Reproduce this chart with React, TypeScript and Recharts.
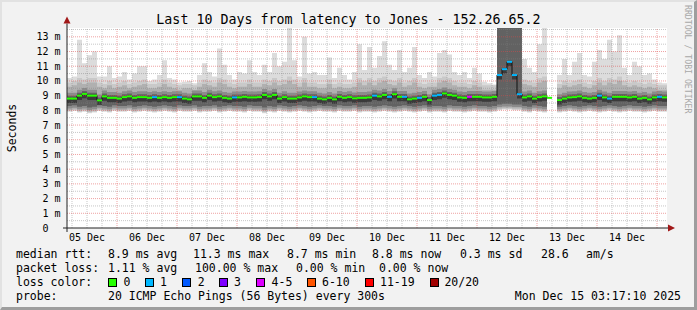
import React from 'react';
import { ComposedChart, Area, Line, XAxis, YAxis, ReferenceLine, ReferenceDot, CartesianGrid } from 'recharts';

// median rtt (ms) per 2h step, null = no data
const median: (number | null)[] = [
  8.8, 8.8, 9.0, 9.12, 9.0, 9.0, 8.68, 8.95, 8.85, 8.85,
  8.8, 8.9, 8.95, 8.85, 8.9, 8.9, 8.85, 8.9, 8.85, 8.9,
  8.85, 8.9, 8.9, 8.8, 8.75, 8.95, 8.95, 8.85, 9.0, 8.9,
  8.95, 8.85, 8.8, 8.88, 8.88, 8.92, 8.88, 8.88, 8.9, 9.05,
  8.95, 9.05, 8.8, 8.9, 8.8, 8.8, 8.88, 8.95, 8.9, 8.9,
  8.8, 8.75, 8.85, 8.75, 8.92, 8.85, 8.9, 8.82, 8.85, 8.85,
  8.88, 9.0, 8.95, 9.05, 8.92, 9.1, 8.92, 8.92, 8.75, 8.8,
  8.85, 8.92, 8.7, 9.0, 9.05, 9.15, 9.05, 9.0, 8.88, 8.85,
  8.92, 8.92, 8.92, 8.88, 8.88, 8.92, 10.4, 10.8, 11.3, 10.4,
  9.1, 8.88, 8.95, 8.8, 8.9, 8.95, 8.85, null, 8.7, 8.8,
  8.88, 8.9, 8.95, 8.85, 8.8, 8.85, 9.0, 8.88, 8.8, 8.92,
  8.92, 8.92, 8.88, 8.92, 8.8, 8.85, 8.75, 8.88, 8.92, 8.88,
];

// lost pings (of 20) per step
const lossCount: number[] = [
  0, 0, 0, 0, 0, 0, 0, 0, 0, 0,
  0, 0, 0, 0, 0, 0, 0, 1, 0, 0,
  0, 0, 1, 0, 0, 0, 0, 0, 0, 0,
  0, 0, 0, 1, 0, 0, 0, 0, 0, 0,
  0, 0, 0, 0, 0, 0, 0, 0, 0, 1,
  0, 0, 0, 0, 0, 0, 0, 0, 0, 0,
  0, 1, 0, 0, 1, 0, 0, 1, 0, 0,
  1, 0, 0, 1, 1, 0, 0, 0, 0, 0,
  4, 0, 0, 0, 0, 0, 1, 1, 1, 1,
  1, 0, 0, 0, 0, 0, 0, 0, 0, 0,
  0, 0, 0, 0, 0, 0, 1, 0, 1, 0,
  0, 0, 0, 0, 0, 0, 0, 0, 1, 0,
];

// highest ping (ms) per step
const maxRtt: (number | null)[] = [
  10.2, 10.3, 12.8, 11.2, 11.75, 12.0, 10.3, 10.3, 11.0, 10.2,
  10.3, 10.6, 10.1, 10.5, 11.0, 11.0, 10.0, 10.1, 10.4, 11.4,
  10.2, 10.1, 9.9, 9.95, 10.0, 9.85, 10.4, 11.2, 10.6, 10.3,
  12.2, 11.1, 10.4, 10.1, 10.6, 10.5, 11.4, 10.6, 10.4, 11.1,
  10.6, 11.9, 11.0, 11.3, 13.6, 11.4, 10.3, 13.0, 10.5, 10.6,
  10.4, 10.4, 11.6, 10.2, 10.9, 10.4, 10.1, 10.6, 12.5, 10.75,
  12.3, 10.9, 11.7, 12.7, 11.1, 10.75, 12.1, 10.6, 10.9, 12.3,
  10.4, 10.2, 10.6, 10.3, 11.9, 12.1, 11.8, 10.6, 10.4, 10.6,
  10.2, 10.9, 10.5, 9.95, 9.85, 9.75, 14, 14, 14, 14,
  14, 11.5, 10.9, 10.6, 12.5, 13.6, 11.5, null, 10.4, 11.5,
  10.4, 11.3, 11.9, 10.4, 10.3, 11.3, 12.1, 11.5, 12.8, 12.0,
  13.1, 10.9, 10.4, 11.3, 11.0, 10.4, 10.5, 10.1, 9.9, 9.85,
];

// upper bulk of the pings (ms) per step
const upperRtt: (number | null)[] = [
  9.6, 9.7, 9.9, 9.8, 9.9, 9.9, 9.6, 9.5, 9.7, 9.5,
  9.6, 9.7, 9.5, 9.6, 9.7, 9.8, 9.5, 9.5, 9.6, 9.8,
  9.6, 9.5, 9.4, 9.5, 9.5, 9.4, 9.6, 9.8, 9.7, 9.6,
  9.9, 9.8, 9.6, 9.5, 9.6, 9.6, 9.8, 9.6, 9.6, 9.8,
  9.7, 9.9, 9.7, 9.8, 10.0, 9.8, 9.6, 9.9, 9.6, 9.6,
  9.5, 9.5, 9.8, 9.5, 9.6, 9.5, 9.5, 9.6, 9.9, 9.7,
  9.9, 9.7, 9.9, 10.0, 9.8, 9.7, 9.9, 9.6, 9.7, 9.9,
  9.6, 9.5, 9.6, 9.6, 9.9, 10.0, 9.9, 9.7, 9.6, 9.6,
  9.5, 9.7, 9.6, 9.4, 9.4, 9.4, 14, 14, 14, 14,
  14, 9.8, 9.7, 9.6, 9.9, 10.0, 9.7, null, 9.5, 9.7,
  9.6, 9.7, 9.8, 9.6, 9.5, 9.7, 9.9, 9.7, 9.9, 9.8,
  10.0, 9.7, 9.6, 9.7, 9.6, 9.5, 9.6, 9.5, 9.4, 9.4,
];

// lowest ping (ms) per step
const minRtt: (number | null)[] = [
  7.9, 7.95, 7.85, 7.9, 7.8, 7.85, 7.95, 7.9, 7.85, 7.95,
  7.9, 7.9, 7.95, 7.85, 7.9, 7.95, 7.9, 7.85, 7.9, 7.95,
  7.9, 7.85, 7.95, 7.9, 7.9, 7.95, 7.85, 7.9, 7.9, 7.95,
  7.85, 7.9, 7.95, 7.9, 7.9, 7.85, 7.95, 7.9, 7.9, 7.8,
  7.9, 7.85, 7.95, 7.9, 7.85, 7.9, 7.95, 7.9, 7.85, 7.9,
  7.95, 7.9, 7.9, 7.85, 7.95, 7.9, 7.9, 7.95, 7.85, 7.9,
  7.9, 7.85, 7.9, 7.95, 7.9, 7.85, 7.9, 7.95, 7.9, 7.85,
  7.9, 7.95, 7.85, 7.9, 7.9, 7.85, 7.95, 7.9, 7.9, 7.85,
  7.9, 7.95, 7.9, 7.9, 7.85, 7.9, 8.0, 8.05, 8.05, 8.0,
  8.0, 7.9, 7.85, 7.95, 7.9, 7.85, 7.9, null, 7.85, 7.9,
  7.95, 7.9, 7.85, 7.9, 7.95, 7.9, 7.85, 7.9, 7.95, 7.9,
  7.85, 7.9, 7.95, 7.9, 7.9, 7.85, 7.9, 7.95, 7.9, 7.9,
];

const dayTicks = [4, 16, 28, 40, 52, 64, 76, 88, 100, 112];
const dayLabels = ['05 Dec', '06 Dec', '07 Dec', '08 Dec', '09 Dec', '10 Dec', '11 Dec', '12 Dec', '13 Dec', '14 Dec'];
const majorX = [10, 22, 34, 46, 58, 70, 82, 94, 106, 118];
const minorX = [1, 4, 7, 13, 16, 19, 25, 28, 31, 37, 40, 43, 49, 52, 55, 61, 64, 67, 73, 76, 79, 85, 88, 91, 97, 100, 103, 109, 112, 115];
const yTicks = [0, 1, 2, 3, 4, 5, 6, 7, 8, 9, 10, 11, 12, 13];
const minorY = [0.5, 1.5, 2.5, 3.5, 4.5, 5.5, 6.5, 7.5, 8.5, 9.5, 10.5, 11.5, 12.5, 13.5];

const legendColors = ['#26ff00', '#00b8ff', '#0059ff', '#7e00ff', '#dd00ff', '#ff5500', '#ff0000', '#a10000'];
const legendLabels = ['0', '1', '2', '3', '4-5', '6-10', '11-19', '20/20'];

const statRow1 = ['median rtt:', '8.9 ms avg', '11.3 ms max', '8.7 ms min', '8.8 ms now', '0.3 ms sd', '28.6', 'am/s'];
const statRow2 = ['packet loss:', '1.11 % avg', '100.00 % max', '0.00 % min', '0.00 % now'];

const MONO = "'DejaVu Sans Mono', 'Liberation Mono', monospace";

function lossColor(n: number): string {
  if (n <= 0) return legendColors[0];
  if (n === 1) return legendColors[1];
  if (n === 2) return legendColors[2];
  if (n === 3) return legendColors[3];
  if (n <= 5) return legendColors[4];
  if (n <= 10) return legendColors[5];
  if (n <= 19) return legendColors[6];
  return legendColors[7];
}

// smoke shading layers (outer → inner)
const rows: any[] = median.map((m, i) => {
  const lo = minRtt[i];
  const hi = maxRtt[i];
  const up = upperRtt[i];
  const has = m != null && lo != null && hi != null && up != null;
  if (!has) return { x: i, med: null, loss: lossCount[i], s1: null, s2: null, s3: null, s4: null, s5: null, s6: null, end: false };
  const burst = (up as number) >= 13.6;
  const M = m as number, L = lo as number, U = up as number, H = hi as number;
  return {
    x: i,
    med: M,
    loss: lossCount[i],
    s1: [L, H],
    s2: [L + 0.05, Math.min(H, U + 0.3)],
    s3: [L + 0.12, U],
    s4: [L + 0.22, burst ? U : M + 0.4],
    s5: [L + 0.4, burst ? U : M + 0.2],
    s6: [M - 0.3, M + 0.08],
    end: false,
  };
});
rows.push({ ...rows[rows.length - 1], x: rows.length, end: true });

const shades: [string, string][] = [
  ['s1', '#dcdcdc'],
  ['s2', '#c9c9c9'],
  ['s3', '#b0b0b0'],
  ['s4', '#8c8c8c'],
  ['s5', '#626262'],
  ['s6', '#3a3a3a'],
];

const STEP_PX = 5;

const renderSeg = (p: any) => {
  const key = `seg-${p.index}`;
  if (!p.payload || p.payload.end || p.payload.med == null || p.cx == null || p.cy == null) return <g key={key} />;
  return <rect key={key} x={p.cx} y={p.cy - 1} width={STEP_PX} height={2} fill={lossColor(p.payload.loss)} />;
};

const renderXTick = (p: any) => {
  const idx = dayTicks.indexOf(p.payload.value);
  return (
    <text x={p.x} y={p.y + 12.7} textAnchor="middle" fontSize={10} fontFamily={MONO} fill="#000">
      {dayLabels[idx]}
    </text>
  );
};

const renderYTick = (p: any) => {
  const v = p.payload.value;
  const label = v === 0 ? '0' : `${v} m`;
  return (
    <text x={v === 0 ? p.x - 18.5 : p.x - 6.5} y={p.y + 3.5} textAnchor="end" fontSize={10} fontFamily={MONO} fill="#000">
      {label}
    </text>
  );
};

const arrowRight = (p: any) => <polygon points={`${p.cx},${p.cy - 3.5} ${p.cx + 7},${p.cy} ${p.cx},${p.cy + 3.5}`} fill="#a11818" />;
const arrowUp = (p: any) => <polygon points={`${p.cx - 3.5},${p.cy} ${p.cx},${p.cy - 7} ${p.cx + 3.5},${p.cy}`} fill="#a11818" />;

export default function App() {
  return (
    <div style={{ position: 'absolute', left: 0, top: 0, width: 697, height: 310, background: '#f2f2f2', overflow: 'hidden' }}>
      <div style={{ position: 'absolute', left: 0, top: 0 }}>
        <ComposedChart width={697} height={310} data={rows} margin={{ top: 28, right: 30, bottom: 62, left: 7 }}>
          <CartesianGrid horizontal={false} vertical={false} fill="#ffffff" />
          <XAxis dataKey="x" type="number" domain={[0, 120]} ticks={dayTicks} interval={0} height={20}
            tickLine={false} axisLine={false} tickSize={0} tickMargin={0} tick={renderXTick} allowDataOverflow />
          <YAxis type="number" domain={[0, 13.6]} ticks={yTicks} interval={0} width={60}
            tickLine={false} axisLine={false} tickSize={0} tickMargin={0} tick={renderYTick} allowDataOverflow />
          {shades.map(([k, c]) => (
            <Area key={k} dataKey={k} type="stepAfter" stroke="none" fill={c} fillOpacity={1}
              isAnimationActive={false} dot={false} activeDot={false} />
          ))}
          {minorY.map((v) => (
            <ReferenceLine key={`my${v}`} y={v} stroke="#808080" strokeOpacity={0.45} strokeDasharray="1 1" />
          ))}
          {minorX.map((v) => (
            <ReferenceLine key={`mx${v}`} x={v} stroke="#808080" strokeOpacity={0.45} strokeDasharray="1 1" />
          ))}
          {yTicks.filter((v) => v > 0).map((v) => (
            <ReferenceLine key={`My${v}`} y={v} stroke="#e04848" strokeOpacity={0.5} strokeDasharray="1 1" />
          ))}
          {majorX.map((v) => (
            <ReferenceLine key={`Mx${v}`} x={v} stroke="#e04848" strokeOpacity={0.5} strokeDasharray="1 1" />
          ))}
          <Line dataKey="med" type="stepAfter" stroke="#111" strokeWidth={1} dot={renderSeg} activeDot={false}
            isAnimationActive={false} connectNulls={false} />
          <ReferenceLine segment={[{ x: -0.8, y: 0 }, { x: 120.2, y: 0 }]} stroke="#222" strokeWidth={1} ifOverflow="visible" />
          <ReferenceLine segment={[{ x: 0, y: -0.27 }, { x: 0, y: 13.9 }]} stroke="#222" strokeWidth={1} ifOverflow="visible" />
          <ReferenceDot x={120.2} y={0} r={4} ifOverflow="visible" shape={arrowRight} />
          <ReferenceDot x={0} y={13.9} r={4} ifOverflow="visible" shape={arrowUp} />
        </ComposedChart>
      </div>
      <svg width={697} height={310} style={{ position: 'absolute', left: 0, top: 0, pointerEvents: 'none' }}>
        <text x={348.5} y={24} textAnchor="middle" fontSize={13.3} fontFamily={MONO} fill="#000">
          Last 10 Days from latency to Jones - 152.26.65.2
        </text>
        <text transform="translate(15.5,128) rotate(-90)" textAnchor="middle" fontSize={11.5} fontFamily={MONO} fill="#000">
          Seconds
        </text>
        <text transform="translate(685,5) rotate(90)" textAnchor="start" fontSize={8.2} fontFamily={MONO} fill="#a8a8a8">
          RRDTOOL / TOBI OETIKER
        </text>
        {statRow1.map((t, i) => (
          <text key={`r1${i}`} x={[16, 108, 193, 287, 372, 460, 541, 586][i]} y={258} fontSize={11.5} fontFamily={MONO} fill="#000">{t}</text>
        ))}
        {statRow2.map((t, i) => (
          <text key={`r2${i}`} x={[16, 108, 195, 296, 379][i]} y={272} fontSize={11.5} fontFamily={MONO} fill="#000">{t}</text>
        ))}
        <text x={16} y={286} fontSize={11.5} fontFamily={MONO} fill="#000">loss color:</text>
        {legendColors.map((c, i) => (
          <g key={`lc${i}`}>
            <rect x={[108.5, 145.5, 182.5, 219.5, 256.5, 307.5, 365.5, 430.5][i]} y={278.5} width={8} height={8} fill={c} stroke="#000" strokeWidth={1} />
            <text x={[123.6, 160, 197.8, 234, 271.6, 322, 380, 444.4][i]} y={286} fontSize={11.5} fontFamily={MONO} fill="#000">{legendLabels[i]}</text>
          </g>
        ))}
        <text x={16} y={300} fontSize={11.5} fontFamily={MONO} fill="#000">probe:</text>
        <text x={108} y={300} fontSize={11.5} fontFamily={MONO} fill="#000">20 ICMP Echo Pings (56 Bytes) every 300s</text>
        <text x={681} y={300} textAnchor="end" fontSize={11.5} fontFamily={MONO} fill="#000">Mon Dec 15 03:17:10 2025</text>
      </svg>
      <div style={{ position: 'absolute', left: 0, top: 0, width: 697, height: 310, boxSizing: 'border-box', borderTop: '2px solid #e2e2e2', borderLeft: '2px solid #e2e2e2', borderRight: '3px solid #9e9e9e', borderBottom: '3px solid #9e9e9e', pointerEvents: 'none' }} />
    </div>
  );
}
